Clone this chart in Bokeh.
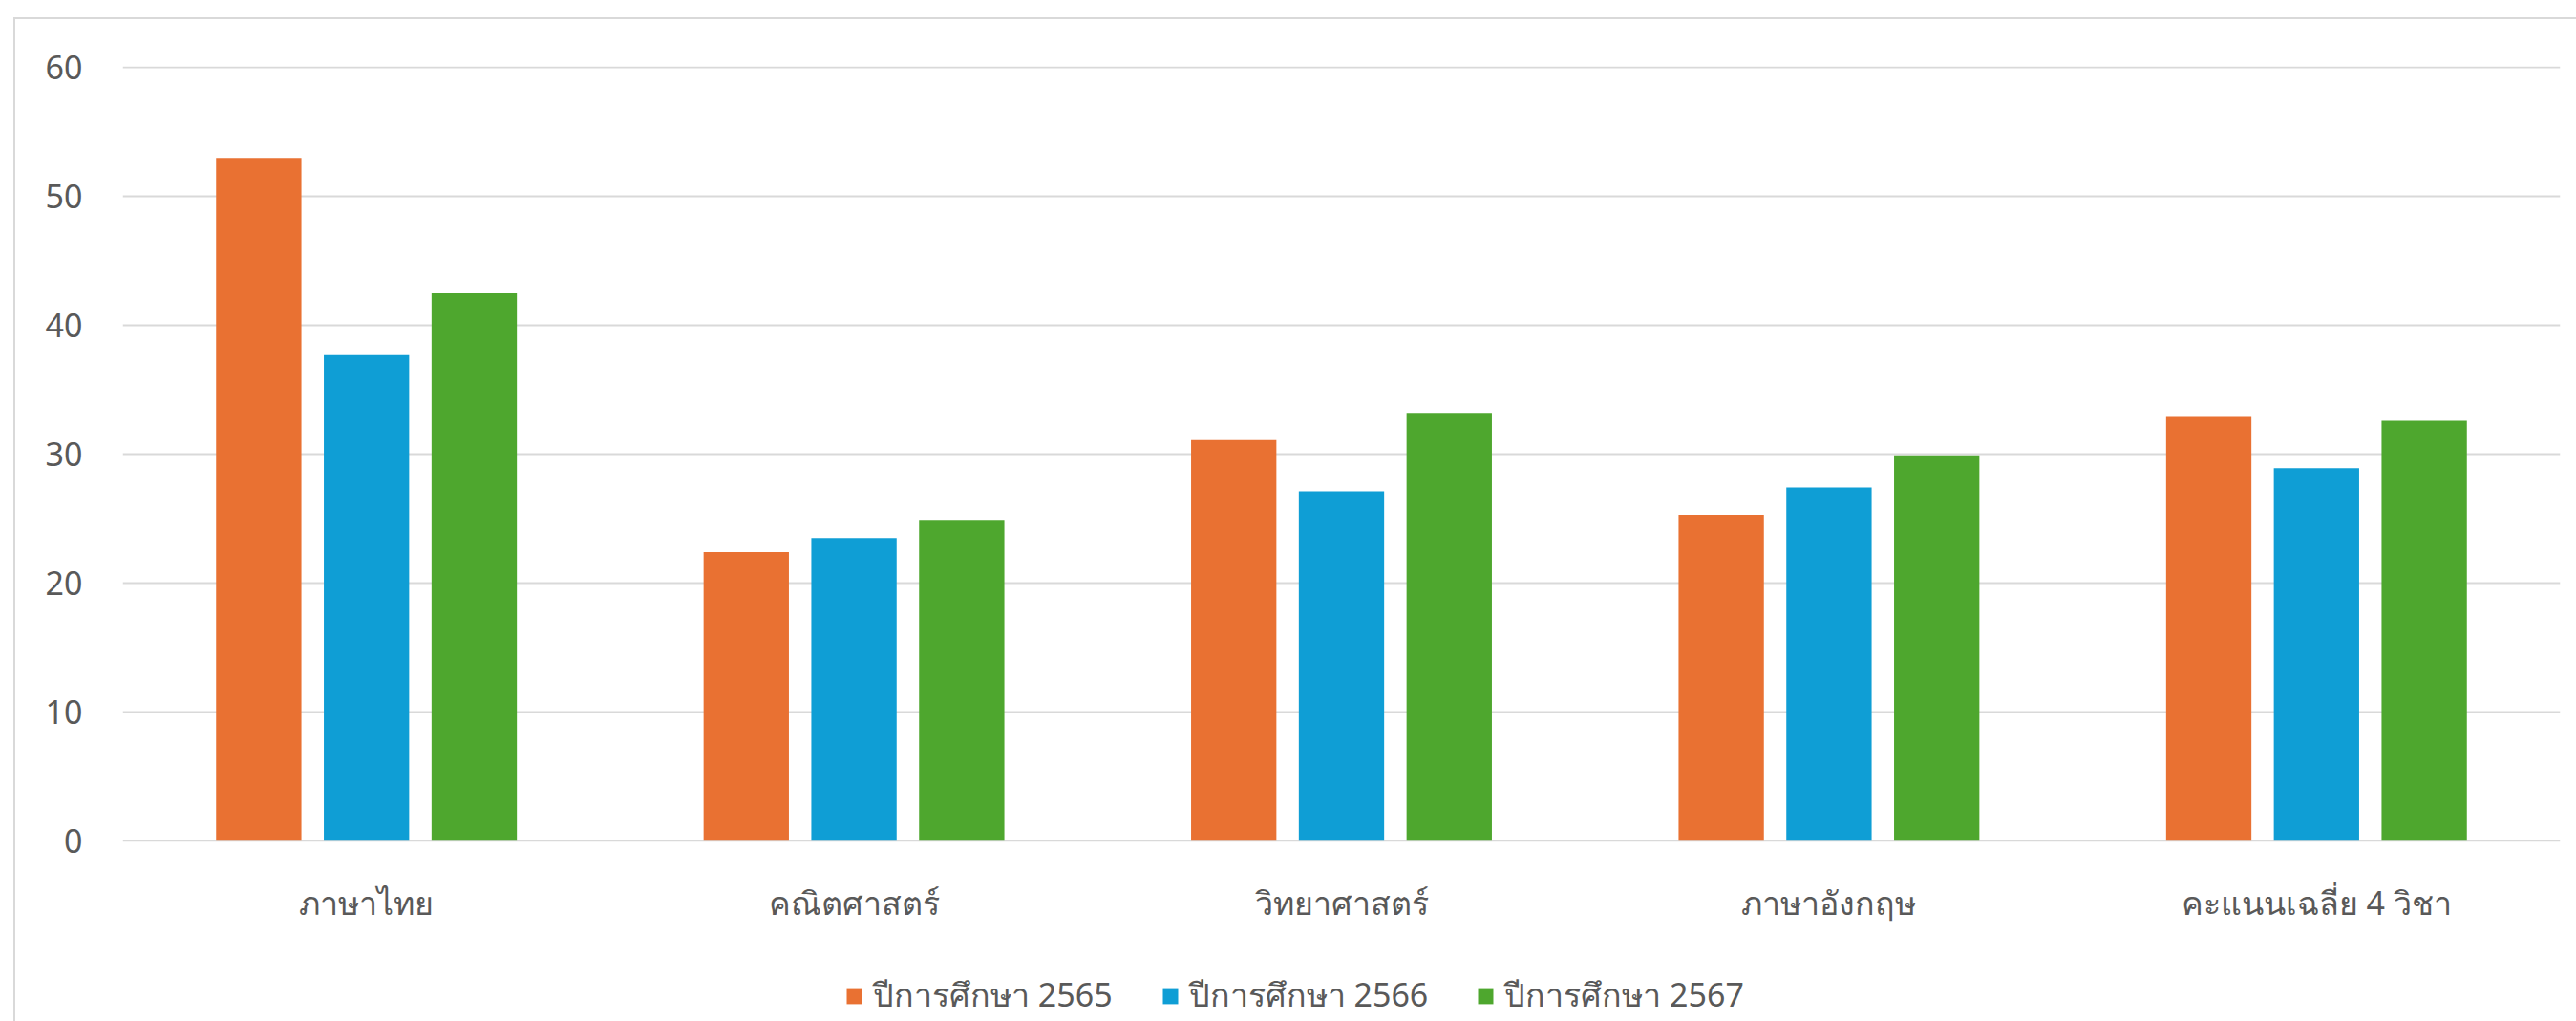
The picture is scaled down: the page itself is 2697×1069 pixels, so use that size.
from bokeh.plotting import figure
from bokeh.layouts import column
from bokeh.models import FactorRange, Range1d, ColumnDataSource, Legend, LegendItem, FixedTicker
from bokeh.transform import dodge
from bokeh.embed import file_html
from bokeh.resources import INLINE

subjects = ["ภาษาไทย", "คณิตศาสตร์", "วิทยาศาสตร์", "ภาษาอังกฤษ", "คะแนนเฉลี่ย 4 วิชา"]
series_names = ["ปีการศึกษา 2565", "ปีการศึกษา 2566", "ปีการศึกษา 2567"]
y2565 = [53.0, 22.4, 31.1, 25.3, 32.9]
y2566 = [37.7, 23.5, 27.1, 27.4, 28.9]
y2567 = [42.5, 24.9, 33.2, 29.9, 32.6]
y_ticks = [0, 10, 20, 30, 40, 50, 60]
colors = ["#E97132", "#0F9ED5", "#4EA72E"]

FONT = "Noto Sans"
TXT = "#595959"

src = ColumnDataSource(dict(x=subjects, a=y2565, b=y2566, c=y2567))
keys = ["a", "b", "c"]
offsets = [-0.221, 0.0, 0.221]

p = figure(x_range=FactorRange(*subjects, range_padding=0), y_range=Range1d(-0.1, 60.1),
           frame_width=2552, frame_height=812, output_backend="svg", toolbar_location=None,
           min_border_left=128, min_border_right=17, min_border_top=69, min_border_bottom=115)
p.outline_line_color = None
p.background_fill_color = "white"
p.border_fill_alpha = 0

for key, off, col in zip(keys, offsets, colors):
    p.vbar(x=dodge("x", off, range=p.x_range), top=key, width=0.175, source=src,
           fill_color=col, line_color=None)

p.xgrid.grid_line_color = None
p.ygrid.grid_line_color = "#d9d9d9"
p.ygrid.grid_line_width = 2
p.yaxis.ticker = FixedTicker(ticks=y_ticks)

for ax in (p.xaxis[0], p.yaxis[0]):
    ax.axis_line_color = None
    ax.major_tick_line_color = None
    ax.minor_tick_line_color = None
    ax.major_label_text_color = TXT
    ax.major_label_text_font = FONT
    ax.major_tick_out = 0
    ax.major_tick_in = 0

p.yaxis.major_label_text_font_size = "34px"
p.yaxis.major_label_standoff = 42
p.xaxis.major_label_text_font_size = "34px"
p.xaxis.major_label_standoff = 40

# legend strip below the chart (same series, hidden, used only as legend entries)
lg = figure(x_range=FactorRange(*subjects, range_padding=0), y_range=Range1d(0, 60),
            frame_width=2697, frame_height=73,
            output_backend="svg", toolbar_location=None, x_axis_location=None, y_axis_location=None,
            min_border_left=0, min_border_right=0, min_border_top=0, min_border_bottom=0)
lg.outline_line_color = None
lg.grid.visible = False
lg.background_fill_alpha = 0
lg.border_fill_alpha = 0
items = []
for n, key, off, col in zip(series_names, keys, offsets, colors):
    r = lg.vbar(x=dodge("x", off, range=lg.x_range), top=key, width=0.175, source=src,
                fill_color=col, line_color=None, visible=False)
    items.append(LegendItem(label=n, renderers=[r]))
legend = Legend(items=items, orientation="horizontal", location=(884, 0), border_line_color=None,
                label_text_font=FONT, label_text_font_size="34px", label_text_color=TXT,
                glyph_width=20, glyph_height=21, spacing=50, padding=0, margin=0,
                label_standoff=10, background_fill_alpha=0, click_policy="none")
lg.add_layout(legend, "center")

layout = column(p, lg, spacing=0)
layout.styles = {
    "background-image": "linear-gradient(#d9d9d9, #d9d9d9), linear-gradient(#d9d9d9, #d9d9d9)",
    "background-size": "2px 100%, 100% 2px",
    "background-position": "14px 18px, 14px 18px",
    "background-repeat": "no-repeat",
    "background-color": "white",
}

open("out.html", "w").write(file_html(layout, INLINE))
